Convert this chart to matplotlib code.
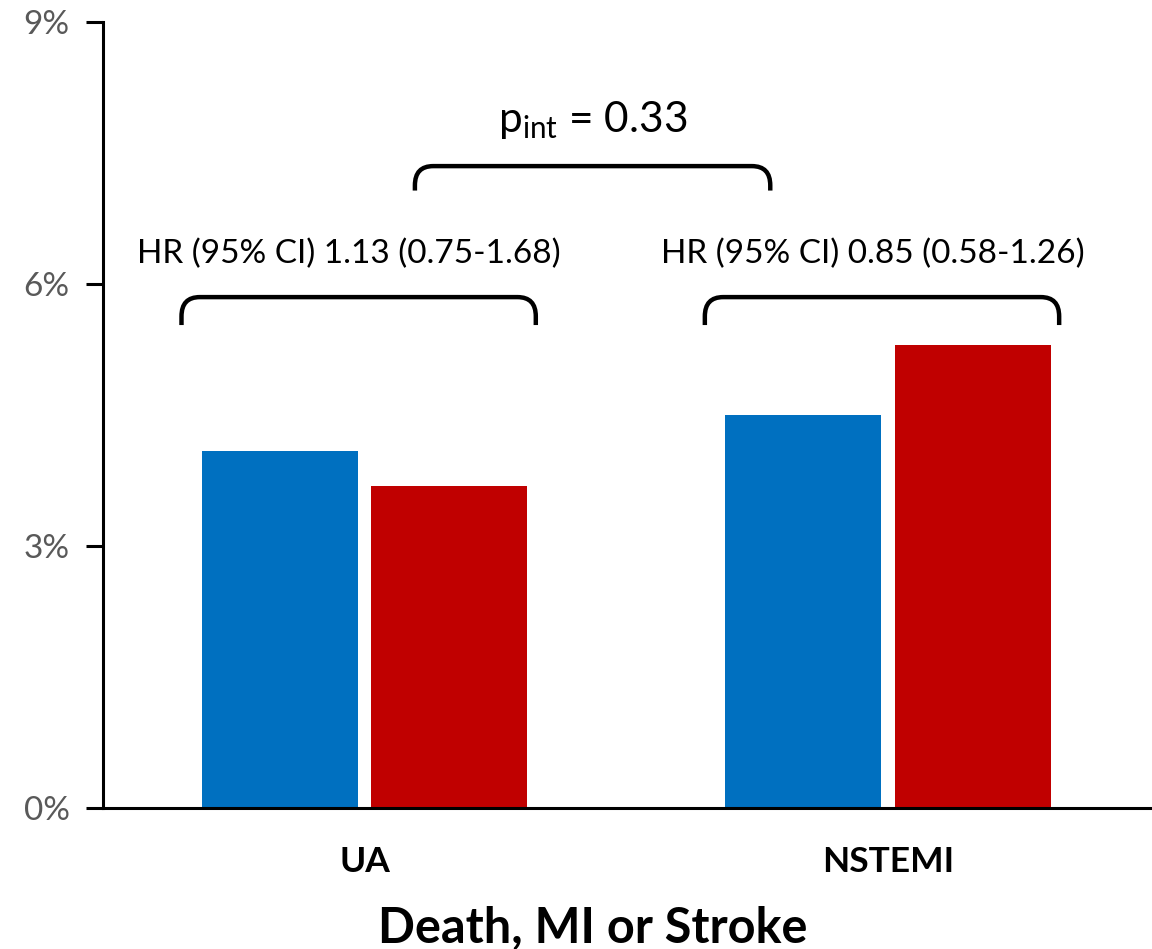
import matplotlib.pyplot as plt
from matplotlib.path import Path
from matplotlib.patches import PathPatch
from matplotlib.ticker import FuncFormatter

# Data
groups = ["UA", "NSTEMI"]
blue_vals = [4.09, 4.50]
red_vals = [3.69, 5.30]
hr_labels = ["HR (95% CI) 1.13 (0.75-1.68)", "HR (95% CI) 0.85 (0.58-1.26)"]
p_int_text = "0.33"

plt.rcParams["font.family"] = ["Lato", "DejaVu Sans"]

BLUE = "#0070C0"
RED = "#C00000"
GREY = "#595959"

fig = plt.figure(figsize=(11.52, 9.49), dpi=100)
ax = fig.add_axes([0.0894, 0.1486, 0.9086, 0.8282])

centers = [0.5, 1.5]
offset = 0.162
width = 0.298
ax.bar([c - offset for c in centers], blue_vals, width=width, color=BLUE)
ax.bar([c + offset for c in centers], red_vals, width=width, color=RED)

ax.set_xlim(0, 2)
ax.set_ylim(0, 9)
ax.set_yticks([0, 3, 6, 9])
ax.yaxis.set_major_formatter(FuncFormatter(lambda v, p: "%d%%" % v))
ax.set_xticks([])
for s in ["top", "right"]:
    ax.spines[s].set_visible(False)
ax.spines["left"].set_linewidth(2.2)
ax.spines["bottom"].set_linewidth(2.2)
ax.tick_params(axis="y", length=12, width=2.2, labelsize=24, labelcolor=GREY, pad=12)


def bracket(x0, x1, ytop, ylow, rx=0.035, ry=0.22):
    verts = [(x0, ylow), (x0, ytop - ry), (x0, ytop), (x0 + rx, ytop),
             (x1 - rx, ytop), (x1, ytop), (x1, ytop - ry), (x1, ylow)]
    codes = [Path.MOVETO, Path.LINETO, Path.CURVE3, Path.CURVE3,
             Path.LINETO, Path.CURVE3, Path.CURVE3, Path.LINETO]
    ax.add_patch(PathPatch(Path(verts, codes), fill=False, lw=3.2,
                           color="black", capstyle="butt", clip_on=False))


# HR brackets over each group
for c, lab in zip(centers, hr_labels):
    bracket(c - 0.35, c + 0.327, 5.85, 5.53)
    ax.text(c - 0.03, 6.34, lab, ha="center", va="center", fontsize=24)

# interaction bracket
bracket(0.596, 1.275, 7.35, 7.07)
ax.text(0.936, 7.88, r"p$_{\mathregular{int}}$ = " + p_int_text,
        ha="center", va="center", fontsize=30.5)

# group labels and axis title
for c, g in zip(centers, groups):
    ax.text(c, -0.62, g, ha="center", va="center", fontsize=25.5, fontweight="bold")
ax.text(0.936, -1.38, "Death, MI or Stroke", ha="center", va="center",
        fontsize=35, fontweight="bold")

fig.savefig("out.png", dpi=100)
